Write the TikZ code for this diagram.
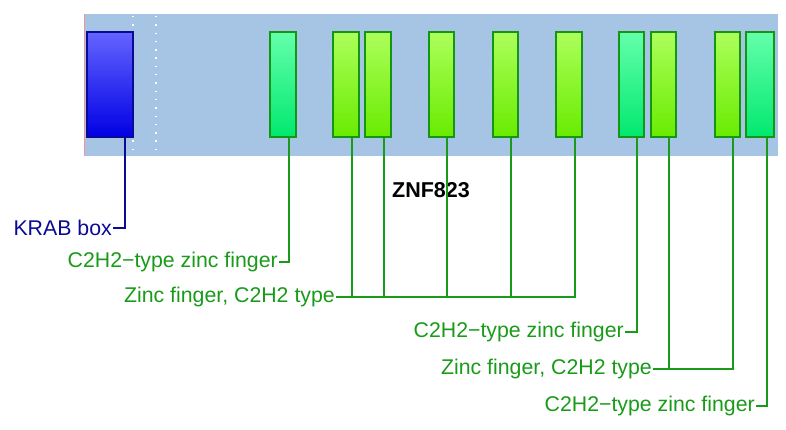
\documentclass[tikz,border=0pt]{standalone}
\usepackage{fontspec}
\setmainfont{Liberation Sans}
\usepackage{tikz}
\definecolor{trackcolor}{RGB}{166,196,228}
\definecolor{edgecolor}{RGB}{238,150,150}
\definecolor{krabline}{RGB}{10,10,150}
\definecolor{krabtop}{RGB}{100,100,255}
\definecolor{krabbottom}{RGB}{0,0,228}
\definecolor{zfline}{RGB}{25,155,25}
\definecolor{zfedge}{RGB}{20,150,20}
\definecolor{limetop}{RGB}{172,255,90}
\definecolor{limebottom}{RGB}{105,235,0}
\definecolor{tealtop}{RGB}{100,255,170}
\definecolor{tealbottom}{RGB}{0,232,110}

\begin{document}
\begin{tikzpicture}[x=1pt,y=-1pt,
  domainbox/.style={rectangle, inner sep=0pt, minimum height=105.5pt, line width=2pt},
  krabbox/.style={domainbox, draw=krabline, top color=krabtop, bottom color=krabbottom},
  limebox/.style={domainbox, draw=zfedge, top color=limetop, bottom color=limebottom},
  tealbox/.style={domainbox, draw=zfedge, top color=tealtop, bottom color=tealbottom},
  featlabel/.style={anchor=east, inner sep=1pt, font=\fontsize{21.3}{24}\selectfont},
  krabtext/.style={featlabel, text=krabline},
  zftext/.style={featlabel, text=zfline},
  krabconn/.style={draw=krabline, line width=1.6pt},
  zfconn/.style={draw=zfline, line width=1.6pt}]
\useasboundingbox (0,0) rectangle (786,430);
% protein track
\fill[trackcolor] (84,14) rectangle (778,156.5);
\draw[edgecolor, line width=1.5pt] (84.5,14) -- (84.5,156.5);
\draw[white, line width=1.4pt, dash pattern=on 1.4pt off 6.9pt] (133,16) -- (133,156);
\draw[white, line width=1.4pt, dash pattern=on 1.4pt off 6.9pt] (156,16) -- (156,156);
% domains
\node[krabbox, minimum width=46pt] (krab) at (109.5,84.75) {};
\node[tealbox, minimum width=26.5pt] (zfa) at (283,84.75) {};
\node[limebox, minimum width=25.5pt] (zfb) at (346,84.75) {};
\node[limebox, minimum width=25.5pt] (zfc) at (378,84.75) {};
\node[limebox, minimum width=25.5pt] (zfd) at (441.7,84.75) {};
\node[limebox, minimum width=25.5pt] (zfe) at (505.5,84.75) {};
\node[limebox, minimum width=25.5pt] (zff) at (569,84.75) {};
\node[tealbox, minimum width=25.5pt] (zfg) at (631.5,84.75) {};
\node[limebox, minimum width=25.5pt] (zfh) at (663.3,84.75) {};
\node[limebox, minimum width=25.5pt] (zfi) at (727.3,84.75) {};
\node[tealbox, minimum width=27.5pt] (zfj) at (760,84.75) {};
% labels
\node[font=\fontsize{21.5}{24}\selectfont\bfseries] (title) at (431,190.5) {ZNF823};
\node[krabtext] (lkrab) at (113,228) {KRAB box};
\node[zftext] (lzfa) at (279,262) {C2H2−type zinc finger};
\node[zftext] (lzfb) at (336,297) {Zinc finger, C2H2 type};
\node[zftext] (lzfg) at (625,332) {C2H2−type zinc finger};
\node[zftext] (lzfh) at (653,369) {Zinc finger, C2H2 type};
\node[zftext] (lzfj) at (756,406) {C2H2−type zinc finger};
% connectors
\draw[krabconn] ([xshift=15.5pt]krab.south) |- (lkrab.east);
\draw[zfconn] ([xshift=6pt]zfa.south) |- (lzfa.east);
\draw[zfconn] ([xshift=6pt]zff.south) |- (lzfb.east);
\draw[zfconn] ([xshift=6pt]zfb.south) -- ([xshift=6pt]zfb.south |- lzfb.east);
\draw[zfconn] ([xshift=6pt]zfc.south) -- ([xshift=6pt]zfc.south |- lzfb.east);
\draw[zfconn] ([xshift=5.3pt]zfd.south) -- ([xshift=5.3pt]zfd.south |- lzfb.east);
\draw[zfconn] ([xshift=5.5pt]zfe.south) -- ([xshift=5.5pt]zfe.south |- lzfb.east);
\draw[zfconn] ([xshift=5.5pt]zfg.south) |- (lzfg.east);
\draw[zfconn] ([xshift=5.7pt]zfi.south) |- (lzfh.east);
\draw[zfconn] ([xshift=5.7pt]zfh.south) -- ([xshift=5.7pt]zfh.south |- lzfh.east);
\draw[zfconn] ([xshift=7pt]zfj.south) |- (lzfj.east);
\end{tikzpicture}
\end{document}
